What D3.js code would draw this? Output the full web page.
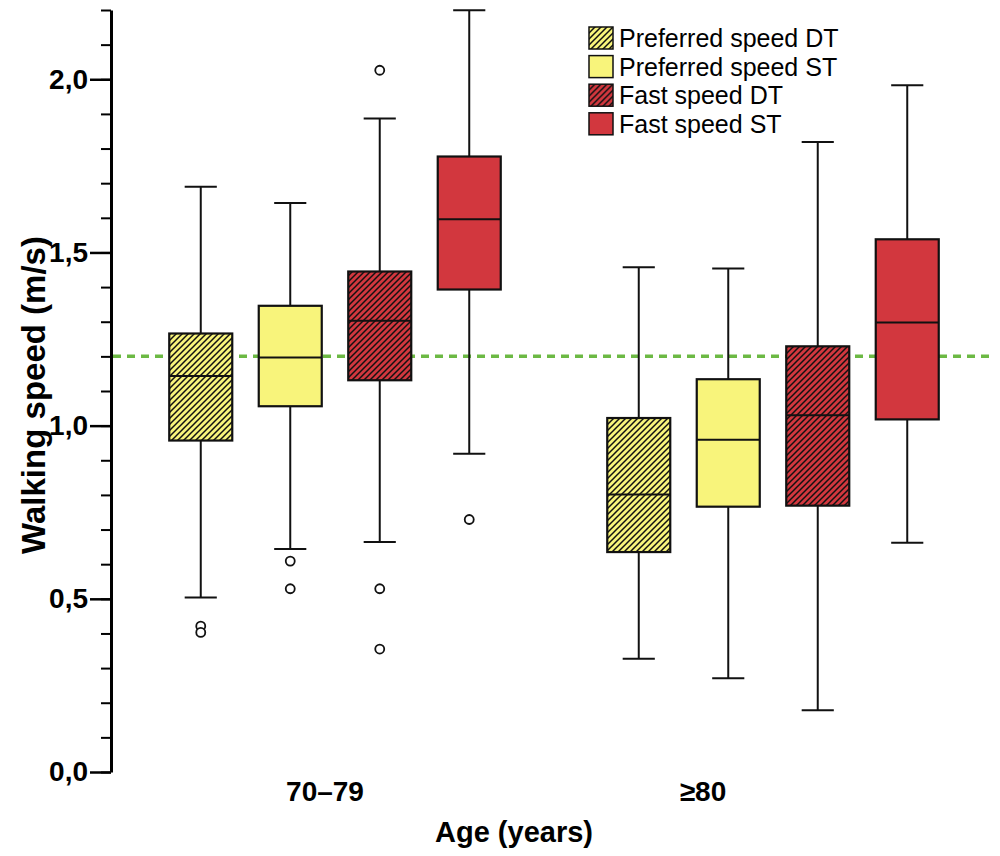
<!DOCTYPE html>
<html>
<head>
<meta charset="utf-8">
<script src="https://cdn.jsdelivr.net/npm/d3@7"></script>
<style>
  body { margin: 0; background: #fff; }
  svg { display: block; font-family: "Liberation Sans", Arial, sans-serif; }
</style>
</head>
<body>
<svg id="chart" width="1000" height="856"></svg>
<script>
// age groups and the four walking conditions
var groups = ["70–79", "≥80"];
var series = ["Preferred speed DT", "Preferred speed ST", "Fast speed DT", "Fast speed ST"];
var seriesFill = ["#f8f47b", "#f8f47b", "#d2373e", "#d2373e"];
var seriesHatch = [true, false, true, false];

// box plot stats, [group][series]
var whiskerLow  = [[0.504, 0.644, 0.664, 0.919], [0.327, 0.271, 0.178, 0.662]];
var q1          = [[0.957, 1.056, 1.131, 1.393], [0.635, 0.766, 0.769, 1.018]];
var median      = [[1.143, 1.197, 1.303, 1.596], [0.801, 0.959, 1.030, 1.298]];
var q3          = [[1.266, 1.346, 1.445, 1.777], [1.022, 1.134, 1.229, 1.538]];
var whiskerHigh = [[1.690, 1.643, 1.887, 2.199], [1.457, 1.454, 1.819, 1.983]];

// outliers: [group, series, value]
var outliers = [
  [0, 0, 0.421], [0, 0, 0.403],
  [0, 1, 0.609], [0, 1, 0.529],
  [0, 2, 2.026], [0, 2, 0.529], [0, 2, 0.355],
  [0, 3, 0.729]
];

var refLine = 1.2; // reference speed
var yMajor = [0, 0.5, 1.0, 1.5, 2.0];
var yMinor = d3.range(0, 23).map(function(i){ return i / 10; });

var svg = d3.select("#chart");

var y = d3.scaleLinear().domain([0, 2.2]).range([772, 10]);
var xGroup = d3.scaleBand().domain(groups).range([116, 992]);
var xSeries = d3.scaleBand().domain(series).range([0, xGroup.bandwidth()])
  .paddingInner(0.296).paddingOuter(0.595);

// hatch pattern for DT boxes
var defs = svg.append("defs");
seriesFill.forEach(function(c, i){
  if (!seriesHatch[i]) return;
  var p = defs.append("pattern")
    .attr("id", "hatch" + i)
    .attr("patternUnits", "userSpaceOnUse")
    .attr("width", 6).attr("height", 6);
  p.append("rect").attr("width", 6).attr("height", 6).attr("fill", c);
  p.append("path")
    .attr("d", "M-1,1 l2,-2 M0,6 l6,-6 M5,7 l2,-2")
    .attr("stroke", "#111").attr("stroke-width", 1.5);
});

function fillOf(i){ return seriesHatch[i] ? "url(#hatch" + i + ")" : seriesFill[i]; }

// y axis: minor ticks then major ticks with labels
svg.append("g")
  .attr("transform", "translate(111,0)")
  .call(d3.axisLeft(y).tickValues(yMinor).tickSize(10).tickSizeOuter(0).tickFormat(""))
  .call(function(g){
    g.select(".domain").attr("stroke-width", 3);
    g.selectAll(".tick line").attr("stroke-width", 2);
  });

svg.append("g")
  .attr("transform", "translate(111,0)")
  .call(d3.axisLeft(y).tickValues(yMajor).tickSize(21).tickSizeOuter(0).tickPadding(2)
    .tickFormat(function(d){ return d3.format(".1f")(d).replace(".", ","); }))
  .call(function(g){
    g.select(".domain").remove();
    g.selectAll(".tick line").attr("stroke-width", 2.5);
    g.selectAll(".tick text")
      .attr("font-size", 28).attr("font-weight", "bold")
      .attr("font-family", "Liberation Sans, Arial, sans-serif")
      .attr("fill", "#000");
  });

// reference line
svg.append("line")
  .attr("x1", 113).attr("x2", 992)
  .attr("y1", y(refLine)).attr("y2", y(refLine))
  .attr("stroke", "#6cb944").attr("stroke-width", 3.5)
  .attr("stroke-dasharray", "8,6");

// build box records
var boxes = [];
groups.forEach(function(g, gi){
  series.forEach(function(s, si){
    boxes.push({
      gi: gi, si: si,
      x: xGroup(g) + xSeries(s),
      lo: whiskerLow[gi][si], q1: q1[gi][si], med: median[gi][si],
      q3: q3[gi][si], hi: whiskerHigh[gi][si]
    });
  });
});

var bw = xSeries.bandwidth();
var capW = bw * 0.51;

var box = svg.append("g").selectAll("g").data(boxes).enter().append("g");

// whiskers
box.append("line")
  .attr("x1", function(d){ return d.x + bw / 2; }).attr("x2", function(d){ return d.x + bw / 2; })
  .attr("y1", function(d){ return y(d.hi); }).attr("y2", function(d){ return y(d.q3); })
  .attr("stroke", "#111").attr("stroke-width", 2);
box.append("line")
  .attr("x1", function(d){ return d.x + bw / 2; }).attr("x2", function(d){ return d.x + bw / 2; })
  .attr("y1", function(d){ return y(d.q1); }).attr("y2", function(d){ return y(d.lo); })
  .attr("stroke", "#111").attr("stroke-width", 2);
// caps
["hi", "lo"].forEach(function(k){
  box.append("line")
    .attr("x1", function(d){ return d.x + bw / 2 - capW / 2; })
    .attr("x2", function(d){ return d.x + bw / 2 + capW / 2; })
    .attr("y1", function(d){ return y(d[k]); }).attr("y2", function(d){ return y(d[k]); })
    .attr("stroke", "#111").attr("stroke-width", 2);
});

// boxes
box.append("rect")
  .attr("x", function(d){ return d.x; })
  .attr("y", function(d){ return y(d.q3); })
  .attr("width", bw)
  .attr("height", function(d){ return y(d.q1) - y(d.q3); })
  .attr("fill", function(d){ return fillOf(d.si); })
  .attr("stroke", "#111").attr("stroke-width", 2.2);

// medians
box.append("line")
  .attr("x1", function(d){ return d.x; }).attr("x2", function(d){ return d.x + bw; })
  .attr("y1", function(d){ return y(d.med); }).attr("y2", function(d){ return y(d.med); })
  .attr("stroke", "#111").attr("stroke-width", 2);

// outliers
svg.append("g").selectAll("circle").data(outliers).enter().append("circle")
  .attr("cx", function(d){ return xGroup(groups[d[0]]) + xSeries(series[d[1]]) + bw / 2; })
  .attr("cy", function(d){ return y(d[2]); })
  .attr("r", 4.5)
  .attr("fill", "#fff").attr("stroke", "#111").attr("stroke-width", 1.8);

// category labels
var labelX = [325, 703];
svg.append("g").selectAll("text").data(groups).enter().append("text")
  .attr("x", function(d, i){ return labelX[i]; })
  .attr("y", 801)
  .attr("text-anchor", "middle")
  .attr("font-size", 28).attr("font-weight", "bold")
  .text(function(d){ return d; });

// axis titles
svg.append("text")
  .attr("x", 514).attr("y", 842)
  .attr("text-anchor", "middle")
  .attr("font-size", 29).attr("font-weight", "bold")
  .text("Age (years)");

svg.append("text")
  .attr("transform", "translate(45,395) rotate(-90)")
  .attr("text-anchor", "middle")
  .attr("font-size", 33).attr("font-weight", "bold")
  .text("Walking speed (m/s)");

// legend
var legend = svg.append("g").selectAll("g").data(series).enter().append("g")
  .attr("transform", function(d, i){ return "translate(589," + (27 + i * 28.6) + ")"; });
legend.append("rect")
  .attr("width", 24).attr("height", 22)
  .attr("fill", function(d, i){ return fillOf(i); })
  .attr("stroke", "#111").attr("stroke-width", 1.5);
legend.append("text")
  .attr("x", 30).attr("y", 20)
  .attr("font-size", 25)
  .text(function(d){ return d; });
</script>
</body>
</html>
